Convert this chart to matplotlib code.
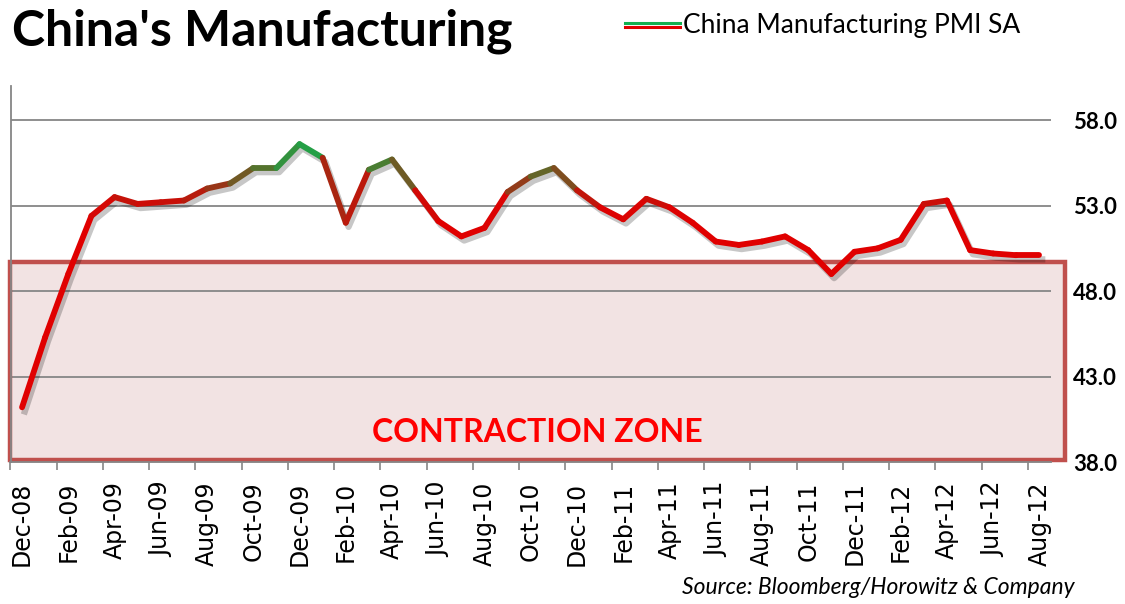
import matplotlib
matplotlib.use("Agg")
import matplotlib.pyplot as plt
import numpy as np
from matplotlib.collections import LineCollection
from matplotlib.colors import LinearSegmentedColormap, Normalize
from matplotlib.patches import Rectangle
from matplotlib.lines import Line2D
import matplotlib.patheffects as pe

months = ["Dec-08", "Jan-09", "Feb-09", "Mar-09", "Apr-09", "May-09", "Jun-09", "Jul-09",
          "Aug-09", "Sep-09", "Oct-09", "Nov-09", "Dec-09", "Jan-10", "Feb-10", "Mar-10",
          "Apr-10", "May-10", "Jun-10", "Jul-10", "Aug-10", "Sep-10", "Oct-10", "Nov-10",
          "Dec-10", "Jan-11", "Feb-11", "Mar-11", "Apr-11", "May-11", "Jun-11", "Jul-11",
          "Aug-11", "Sep-11", "Oct-11", "Nov-11", "Dec-11", "Jan-12", "Feb-12", "Mar-12",
          "Apr-12", "May-12", "Jun-12", "Jul-12", "Aug-12"]
pmi = [41.2, 45.3, 49.0, 52.4, 53.5, 53.1, 53.2, 53.3, 54.0, 54.3, 55.2, 55.2,
       56.6, 55.8, 52.0, 55.1, 55.7, 53.9, 52.1, 51.2, 51.7, 53.8, 54.7, 55.2,
       53.9, 52.9, 52.2, 53.4, 52.9, 52.0, 50.9, 50.7, 50.9, 51.2, 50.4, 49.0,
       50.3, 50.5, 51.0, 53.1, 53.3, 50.4, 50.2, 50.1, 50.1]
yticks = [38, 43, 48, 53, 58]

W, H = 1125, 604
fig = plt.figure(figsize=(W / 100, H / 100), dpi=100)
ax = fig.add_axes([10.5 / W, 1 - 462 / H, (1051 - 10.5) / W, (462 - 86) / H])

x = np.arange(len(pmi))
ax.set_xlim(-0.5, len(pmi) - 0.5)
ax.set_ylim(38, 60)

# gridlines
for v in yticks:
    ax.axhline(v, color="#868686", lw=1.3, zorder=2)

# contraction zone box: fill under the grid, border over it
ax.add_patch(Rectangle((-0.5, 38.1), 45.6, 11.6, facecolor="#f2e3e3", edgecolor="none",
                       zorder=1, clip_on=False))
ax.add_patch(Rectangle((-0.5, 38.1), 45.6, 11.6, facecolor="none", edgecolor="#c0504d",
                       lw=3.2, zorder=2.5, clip_on=False))
ax.text(22.3, 39.75, "CONTRACTION ZONE", color="#ff0000", fontsize=23,
        fontweight="bold", family="Lato", ha="center", va="center", zorder=3)

# line coloured by level
cmap = LinearSegmentedColormap.from_list(
    "pmi", [(0.0, "#e00000"), (0.25, "#dc0303"), (0.45, "#b0200f"),
            (0.75, "#4c7a30"), (1.0, "#12b050")])
norm = Normalize(51.5, 56.6)
pts = np.column_stack([x, pmi]).reshape(-1, 1, 2)
segs = np.concatenate([pts[:-1], pts[1:]], axis=1)
mid = (np.array(pmi[:-1]) + np.array(pmi[1:])) / 2
ax.plot(x, pmi, color="#000000", lw=4.5, alpha=0.0,
        path_effects=[pe.SimpleLineShadow(offset=(2, -3), shadow_color="black",
                                          alpha=0.22, rho=1)], zorder=3)
lc = LineCollection(segs, cmap=cmap, norm=norm, linewidths=4.2,
                    capstyle="round", joinstyle="round", zorder=4)
lc.set_array(mid)
ax.add_collection(lc)

# axes styling
for s in ["top", "right"]:
    ax.spines[s].set_visible(False)
ax.spines["left"].set_color("#868686")
ax.spines["left"].set_linewidth(1.3)
ax.spines["bottom"].set_color("#868686")
ax.spines["bottom"].set_linewidth(1.3)

ax.yaxis.tick_right()
ax.set_yticks(yticks)
ax.set_yticklabels(["%.1f" % v for v in yticks], fontsize=16, fontweight="bold",
                   family="Lato")
ax.tick_params(axis="y", length=0, pad=16)

ax.set_xticks(np.arange(-0.5, len(pmi) - 1, 2))
ax.set_xticklabels([])
ax.set_xticks(x[::2], minor=True)
ax.set_xticklabels(months[::2], minor=True, rotation=90, fontsize=17)
ax.tick_params(axis="x", which="major", length=6, color="#868686", width=1.2)
ax.tick_params(axis="x", which="minor", length=0, pad=14)

# title, legend, source
fig.text(12 / W, 1 - 31 / H, "China's Manufacturing", fontsize=36, fontweight="bold",
         family="Lato", va="center", ha="left")
fig.add_artist(Line2D([625 / W, 680 / W], [1 - 23 / H, 1 - 23 / H], color="#12b050",
                      lw=2.2))
fig.add_artist(Line2D([625 / W, 680 / W], [1 - 27 / H, 1 - 27 / H], color="#e00000",
                      lw=2.2))
fig.text(683 / W, 1 - 26 / H, "China Manufacturing PMI SA", fontsize=19,
         family="Lato", va="center", ha="left")
fig.text(1075 / W, 1 - 587 / H, "Source: Bloomberg/Horowitz & Company", fontsize=16.5,
         family="Lato", style="italic", va="center", ha="right")

fig.savefig("out.png", dpi=100)
